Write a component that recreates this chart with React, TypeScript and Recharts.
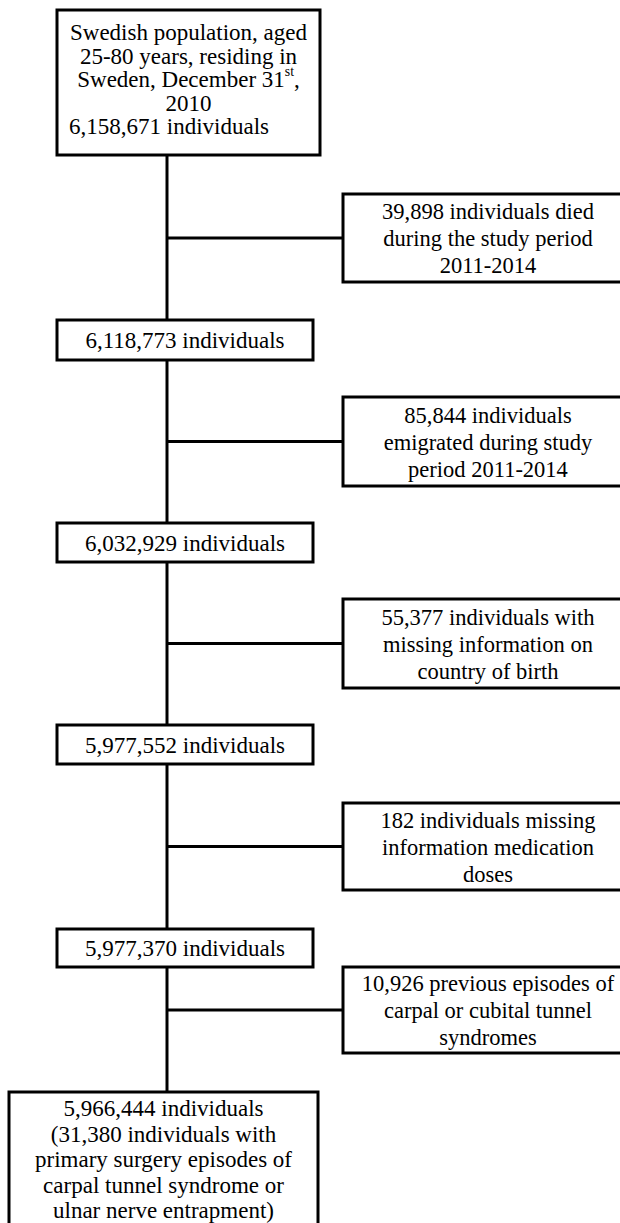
import { ComposedChart, XAxis, YAxis, Scatter, ReferenceLine } from "recharts";

// flow counts and box texts
const headerLines = [
    "Swedish population, aged",
    "25-80 years, residing in",
    "Sweden, December 31^st^,",
    "2010",
];
const stepCounts = ["6,158,671", "6,118,773", "6,032,929", "5,977,552", "5,977,370"];
const exclusionLines = [
    ["39,898 individuals died", "during the study period", "2011-2014"],
    ["85,844 individuals", "emigrated during study", "period 2011-2014"],
    ["55,377 individuals with", "missing information on", "country of birth"],
    ["182 individuals missing", "information medication", "doses"],
    ["10,926 previous episodes of", "carpal or cubital tunnel", "syndromes"],
];
const finalLines = [
    "5,966,444 individuals",
    "(31,380 individuals with",
    "primary surgery episodes of",
    "carpal tunnel syndrome or",
    "ulnar nerve entrapment)",
];

// layout (chart units == pixels)
const W = 620;
const H = 1223;
const spineX = 167;
const headerBox = { x1: 57, x2: 320, y1: 10, y2: 155 };
const stepBoxX = [57, 313];
const stepBoxY = [
    [320, 360],
    [523, 562],
    [725, 764],
    [929, 967],
];
const sideBoxX = [343, 633];
const sideBoxY = [
    [194, 282],
    [397, 486],
    [599, 688],
    [803, 890],
    [967, 1053],
];
const finalBox = { x1: 9, x2: 318, y1: 1092, y2: 1250 };

const FONT = "Liberation Serif";

type Box = {
    x: number;
    y: number;
    w: number;
    h: number;
    lines: string[];
    gap: number;
    fs: number;
    lastStart?: number;
    topPad?: number;
};

const boxes: Box[] = [
    {
        x: (headerBox.x1 + headerBox.x2) / 2,
        y: (headerBox.y1 + headerBox.y2) / 2,
        w: headerBox.x2 - headerBox.x1,
        h: headerBox.y2 - headerBox.y1,
        lines: [...headerLines, `${stepCounts[0]} individuals`],
        gap: 23.5,
        fs: 23,
        lastStart: 12,
        topPad: 22,
    },
    ...stepBoxY.map(([a, b], i) => ({
        x: (stepBoxX[0] + stepBoxX[1]) / 2,
        y: (a + b) / 2,
        w: stepBoxX[1] - stepBoxX[0],
        h: b - a,
        lines: [`${stepCounts[i + 1]} individuals`],
        gap: 26,
        fs: 23,
    })),
    ...sideBoxY.map(([a, b], i) => ({
        x: (sideBoxX[0] + sideBoxX[1]) / 2,
        y: (a + b) / 2,
        w: sideBoxX[1] - sideBoxX[0],
        h: b - a,
        lines: exclusionLines[i],
        gap: 27,
        fs: 22.5,
    })),
    {
        x: (finalBox.x1 + finalBox.x2) / 2,
        y: (finalBox.y1 + finalBox.y2) / 2,
        w: finalBox.x2 - finalBox.x1,
        h: finalBox.y2 - finalBox.y1,
        lines: finalLines,
        gap: 25.5,
        fs: 23,
        topPad: 16,
    },
];

function renderLine(s: string, fs: number) {
    const parts = s.split("^");
    return parts.map((p, i) =>
        i % 2 === 1 ? (
            <tspan key={i} fontSize={fs * 0.6} dy={-8}>
                {p}
            </tspan>
        ) : (
            <tspan key={i} dy={i > 0 ? 8 : 0}>
                {p}
            </tspan>
        )
    );
}

function FlowBox(props: any) {
    const { cx, cy, payload } = props;
    const b = payload as Box;
    const left = cx - b.w / 2;
    const top = cy - b.h / 2;
    const n = b.lines.length;
    const firstY = b.topPad !== undefined ? top + b.topPad : cy - ((n - 1) * b.gap) / 2;
    return (
        <g>
            <rect x={left} y={top} width={b.w} height={b.h} fill="#fff" stroke="#000" strokeWidth={3} />
            {b.lines.map((l, i) => {
                const start = b.lastStart !== undefined && i === n - 1;
                return (
                    <text
                        key={i}
                        x={start ? left + b.lastStart! : cx}
                        y={firstY + i * b.gap}
                        textAnchor={start ? "start" : "middle"}
                        dominantBaseline="central"
                        fontFamily={FONT}
                        style={{ fontFamily: FONT }}
                        fontSize={b.fs}
                        fill="#000"
                    >
                        {renderLine(l, b.fs)}
                    </text>
                );
            })}
        </g>
    );
}

// spine pieces between the main boxes
const spineStops = [headerBox.y2, ...stepBoxY.flat(), finalBox.y1];
const spineSegments: [number, number][] = [];
for (let i = 0; i < spineStops.length; i += 2) {
    spineSegments.push([spineStops[i], spineStops[i + 1]]);
}

export default function App() {
    return (
        <div style={{ position: "absolute", left: 0, top: 0, background: "#fff" }}>
            <ComposedChart width={W} height={H} margin={{ top: 0, right: 0, bottom: 0, left: 0 }}>
                <XAxis type="number" dataKey="x" domain={[0, W]} hide allowDataOverflow />
                <YAxis type="number" dataKey="y" domain={[0, H]} reversed hide allowDataOverflow />
                {spineSegments.map(([a, b], i) => (
                    <ReferenceLine
                        key={`s${i}`}
                        segment={[
                            { x: spineX, y: a },
                            { x: spineX, y: b },
                        ]}
                        stroke="#000"
                        strokeWidth={3}
                        ifOverflow="visible"
                    />
                ))}
                {sideBoxY.map(([a, b], i) => (
                    <ReferenceLine
                        key={`b${i}`}
                        segment={[
                            { x: spineX, y: (a + b) / 2 },
                            { x: sideBoxX[0], y: (a + b) / 2 },
                        ]}
                        stroke="#000"
                        strokeWidth={3}
                        ifOverflow="visible"
                    />
                ))}
                <Scatter data={boxes} shape={FlowBox} isAnimationActive={false} />
            </ComposedChart>
        </div>
    );
}
